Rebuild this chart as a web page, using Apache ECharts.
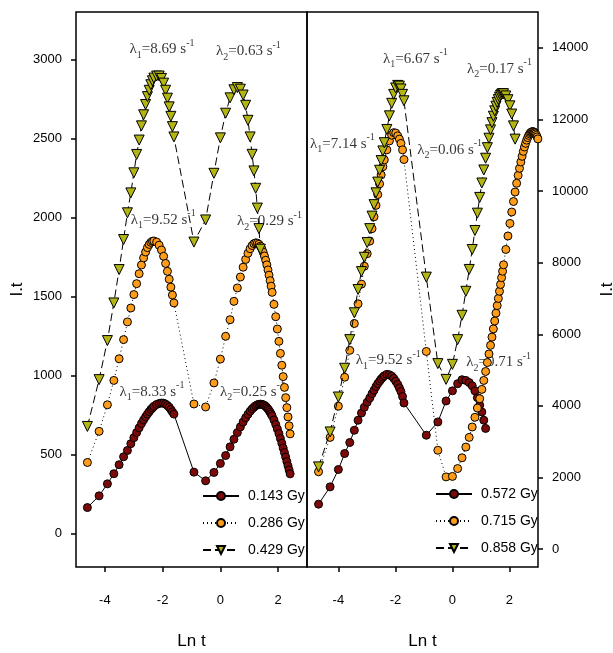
<!DOCTYPE html>
<html>
<head>
<meta charset="utf-8">
<script src="https://cdn.jsdelivr.net/npm/echarts@6/dist/echarts.min.js"></script>
<style>
  html, body { margin: 0; padding: 0; background: #fff; }
  #chart { width: 613px; height: 653px; }
</style>
</head>
<body>
<div id="chart"></div>
<script>
// ln t sampling (early part of the decay, left and right panel)
const lnT_early = [-4.605, -4.200, -3.912, -3.689, -3.507, -3.352, -3.219, -3.101, -2.996, -2.900, -2.813, -2.733, -2.659, -2.590, -2.526, -2.465, -2.408, -2.354, -2.303, -2.207, -2.120, -2.040, -1.966, -1.897, -1.833, -1.772, -1.715, -1.661, -1.609];
const lnT_earlyR = [-4.695, -4.29, -4.00, -3.78, -3.60, -3.44, -3.31, -3.19, -3.09, -2.99, -2.90, -2.82, -2.75, -2.68, -2.62, -2.555, -2.50, -2.44, -2.39, -2.30, -2.21, -2.13, -2.06, -1.99, -1.92, -1.86, -1.805, -1.75, -1.70];
// later part
const lnT_mid = [-0.916, -0.511, -0.223, 0, 0.182, 0.336, 0.470, 0.588, 0.693, 0.788, 0.875, 0.956, 1.030, 1.099, 1.163, 1.224, 1.281, 1.335, 1.386, 1.435, 1.482, 1.526, 1.569, 1.609, 1.649, 1.686, 1.723, 1.758, 1.792];
const lnT_lateA = [1.856, 1.917, 1.974, 2.028, 2.079, 2.128, 2.175, 2.219, 2.262, 2.303, 2.342, 2.380, 2.416];
const lnT_lateB = [1.872, 1.946, 2.015, 2.079, 2.140, 2.197, 2.251, 2.303, 2.351, 2.398, 2.442, 2.485, 2.526, 2.565, 2.603, 2.639, 2.674, 2.708, 2.741, 2.773, 2.803, 2.833, 2.862, 2.890, 2.918, 2.944, 2.970, 2.996];

// I.t values, left panel
const it143_early = [166, 240, 316, 380, 437, 487, 527, 570, 608, 640, 670, 697, 720, 740, 757, 772, 786, 796, 806, 818, 824, 827, 826, 820, 811, 800, 786, 771, 757];
const it143_mid = [390, 335, 388, 445, 495, 550, 598, 640, 676, 707, 734, 756, 775, 790, 801, 810, 816, 819, 820, 819, 816, 812, 806, 798, 790, 780, 769, 758, 746];
const it143_late = [720, 692, 663, 634, 603, 573, 543, 514, 485, 457, 430, 404, 379];

const it286_early = [451, 648, 816, 970, 1107, 1228, 1340, 1428, 1513, 1582, 1645, 1700, 1745, 1782, 1810, 1830, 1843, 1850, 1852, 1845, 1825, 1795, 1755, 1710, 1660, 1610, 1560, 1510, 1460];
const it286_mid = [821, 802, 954, 1105, 1249, 1354, 1470, 1555, 1624, 1686, 1735, 1774, 1803, 1823, 1835, 1840, 1838, 1831, 1819, 1802, 1781, 1757, 1730, 1701, 1669, 1636, 1601, 1566, 1527];
const it286_late = [1451, 1373, 1295, 1217, 1141, 1066, 994, 926, 861, 798, 739, 683, 632];

const it429_early = [679, 975, 1222, 1460, 1671, 1861, 2030, 2156, 2283, 2399, 2490, 2580, 2650, 2715, 2765, 2805, 2840, 2865, 2882, 2895, 2895, 2880, 2850, 2805, 2755, 2700, 2640, 2575, 2510];
const it429_mid = [1845, 1985, 2280, 2504, 2660, 2757, 2808, 2822, 2812, 2775, 2710, 2615, 2510, 2400, 2295, 2185, 2060, 1930, 1800];

// I.t values, right panel
const it572_early = [1255, 1738, 2223, 2669, 2976, 3319, 3598, 3800, 3960, 4100, 4220, 4340, 4435, 4540, 4620, 4690, 4750, 4800, 4840, 4880, 4870, 4830, 4770, 4690, 4600, 4500, 4400, 4260, 4080];
const it572_mid = [3180, 3551, 4137, 4420, 4620, 4730, 4710, 4650, 4560, 4420, 4230, 4020, 3830, 3600, 3370];

const it715_early = [2160, 3120, 3990, 4800, 5550, 6300, 6850, 7400, 7900, 8250, 8600, 8950, 9280, 9600, 9900, 10200, 10450, 10680, 10870, 11150, 11400, 11560, 11630, 11620, 11540, 11450, 11330, 11150, 10880];
const it715_mid = [5520, 2760, 2017, 2030, 2250, 2550, 2850, 3120, 3410, 3680, 3940, 4200, 4460, 4710, 4960, 5210, 5450, 5690, 5920, 6150, 6370, 6590, 6800, 7000, 7200, 7390, 7580, 7760, 7940];
const it715_late = [8368, 8745, 9095, 9414, 9707, 9973, 10216, 10437, 10634, 10812, 10969, 11108, 11229, 11332, 11421, 11493, 11553, 11598, 11631, 11651, 11660, 11658, 11644, 11624, 11595, 11555, 11510, 11456];

const it858_early = [2296, 3272, 4248, 5050, 5850, 6600, 7250, 7750, 8150, 8560, 8950, 9300, 9620, 9950, 10250, 10580, 10850, 11120, 11350, 11720, 12100, 12450, 12700, 12880, 12950, 12930, 12850, 12700, 12520];
const it858_mid = [7596, 5180, 4740, 5160, 5850, 6530, 7200, 7810, 8367, 8898, 9382, 9822, 10224, 10589, 10916, 11211, 11475, 11708, 11910, 12089, 12240, 12369, 12476, 12555, 12622, 12672, 12705, 12720, 12717];
const it858_late = [12656, 12550, 12380, 12150, 11820, 11450];

// ticks
const xTicks = [-4, -2, 0, 2];
const yTicksL = [0, 500, 1000, 1500, 2000, 2500, 3000];
const yTicksR = [0, 2000, 4000, 6000, 8000, 10000, 12000, 14000];

// lambda annotations
const annLX = [-2.02, 0.97, -1.98, 1.70, -2.37, 1.11];
const annLY = [3063, 3050, 1987, 1975, 899, 899];
const annLSub = ['1', '2', '1', '2', '1', '2'];
const annLVal = ['8.69', '0.63', '9.52', '0.29', '8.33', '0.25'];
const annRX = [-1.30, 1.65, -3.86, -0.10, -2.25, 1.62];
const annRY = [13696, 13417, 11325, 11157, 5272, 5216];
const annRSub = ['1', '2', '1', '2', '1', '2'];
const annRVal = ['6.67', '0.17', '7.14', '0.06', '9.52', '0.71'];

const SANS = "'Liberation Sans', Arial, sans-serif";
const SERIF = "'Liberation Serif', 'Times New Roman', serif";

const zip = (xs, ys) => xs.map((x, i) => [x, ys[i]]);

const styles = {
    solid: { symbol: 'circle', size: 8, rotate: 0, color: '#7d0a0a', line: 'solid' },
    dotted: { symbol: 'circle', size: 8, rotate: 0, color: '#ff9c1a', line: [1, 3] },
    dashed: { symbol: 'triangle', size: 10, rotate: 180, color: '#b2b514', line: [8, 4] }
};

function doseSeries(name, panel, st, xs, ys, z) {
    return {
        type: 'line', name, xAxisIndex: panel, yAxisIndex: panel, z,
        data: zip(xs, ys),
        symbol: st.symbol, symbolSize: st.size, symbolRotate: st.rotate, showSymbol: true,
        itemStyle: { color: st.color, borderColor: '#000', borderWidth: 1 },
        lineStyle: { color: '#000', width: 1, type: st.line },
        clip: false, silent: true, animation: false
    };
}

function lambdaSeries(panel, xs, ys, subs, vals) {
    return {
        type: 'scatter', xAxisIndex: panel, yAxisIndex: panel, z: 1, silent: true,
        symbolSize: 1, itemStyle: { color: 'rgba(0,0,0,0)' }, animation: false,
        data: xs.map((x, i) => ({ value: [x, ys[i]], sub: subs[i], val: vals[i] })),
        label: {
            show: true, position: 'inside', color: '#000', textBorderWidth: 0,
            formatter: p => `{m|λ}{s|${p.data.sub}}{m|=${p.data.val} s}{p|-1}`,
            rich: {
                m: { fontFamily: SERIF, fontSize: 15, color: '#000', lineHeight: 22, verticalAlign: 'middle' },
                s: { fontFamily: SERIF, fontSize: 10, color: '#000', verticalAlign: 'bottom' },
                p: { fontFamily: SERIF, fontSize: 10, color: '#000', verticalAlign: 'top' }
            }
        }
    };
}

const axisText = { fontFamily: SANS, fontSize: 13, color: '#000' };
const nameText = { fontFamily: SANS, fontSize: 17, color: '#000' };

function xAxisFor(panel, min, max) {
    return {
        type: 'value', gridIndex: panel, min, max,
        name: 'Ln t', nameLocation: 'middle', nameGap: 66, nameTextStyle: nameText,
        axisLine: { show: false, onZero: false },
        axisTick: { show: true, length: 5, customValues: xTicks, lineStyle: { color: '#000', width: 1.5 } },
        axisLabel: { customValues: xTicks, margin: 27, ...axisText },
        splitLine: { show: false }
    };
}

function yAxisFor(panel, min, max, ticks, pos, gap) {
    return {
        type: 'value', gridIndex: panel, min, max, position: pos,
        name: 'I.t', nameLocation: 'middle', nameGap: gap, nameTextStyle: nameText,
        axisLine: { show: false, onZero: false },
        axisTick: { show: true, length: 5, customValues: ticks, lineStyle: { color: '#000', width: 1.5 } },
        axisLabel: { customValues: ticks, margin: 14, formatter: v => String(v), ...axisText },
        splitLine: { show: false }
    };
}

const legendBase = {
    orient: 'vertical', padding: 0, itemWidth: 36, itemHeight: 10, itemGap: 13, selectedMode: false,
    textStyle: { fontFamily: SANS, fontSize: 14, color: '#000', padding: [0, 0, 0, 4] }
};

const gridBase = { top: 12, width: 231, height: 555, show: true, borderColor: '#000', borderWidth: 1.5, outerBoundsMode: 'none', containLabel: false };

const option = {
    animation: false,
    grid: [
        { ...gridBase, left: 76 },
        { ...gridBase, left: 307 }
    ],
    xAxis: [xAxisFor(0, -5, 3), xAxisFor(1, -5.1, 3)],
    yAxis: [
        yAxisFor(0, -210, 3300, yTicksL, 'left', 50),
        yAxisFor(1, -500, 15000, yTicksR, 'right', 61)
    ],
    legend: [
        { ...legendBase, left: 202, top: 489, data: ['0.143 Gy', '0.286 Gy', '0.429 Gy'] },
        { ...legendBase, left: 435, top: 487, data: ['0.572 Gy', '0.715 Gy', '0.858 Gy'] }
    ],
    series: [
        lambdaSeries(0, annLX, annLY, annLSub, annLVal),
        lambdaSeries(1, annRX, annRY, annRSub, annRVal),
        doseSeries('0.143 Gy', 0, styles.solid, lnT_early.concat(lnT_mid, lnT_lateA), it143_early.concat(it143_mid, it143_late), 3),
        doseSeries('0.286 Gy', 0, styles.dotted, lnT_early.concat(lnT_mid, lnT_lateA), it286_early.concat(it286_mid, it286_late), 4),
        doseSeries('0.429 Gy', 0, styles.dashed, lnT_early.concat(lnT_mid.slice(0, 19)), it429_early.concat(it429_mid), 5),
        doseSeries('0.572 Gy', 1, styles.solid, lnT_earlyR.concat(lnT_mid.slice(0, 15)), it572_early.concat(it572_mid), 3),
        doseSeries('0.715 Gy', 1, styles.dotted, lnT_earlyR.concat(lnT_mid, lnT_lateB), it715_early.concat(it715_mid, it715_late), 4),
        doseSeries('0.858 Gy', 1, styles.dashed, lnT_earlyR.concat(lnT_mid, lnT_lateB.slice(0, 6)), it858_early.concat(it858_mid, it858_late), 5)
    ]
};

const chart = echarts.init(document.getElementById('chart'));
chart.setOption(option);
window.addEventListener('resize', () => chart.resize());
</script>
</body>
</html>
